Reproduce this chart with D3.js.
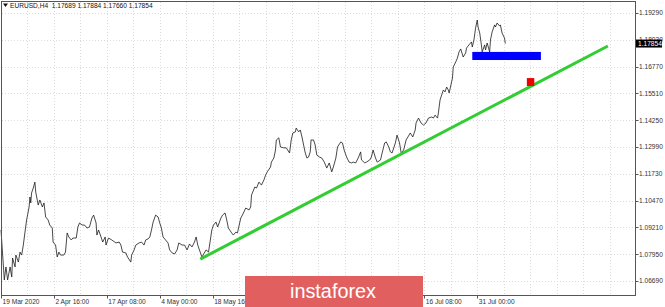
<html>
<head>
  <style>
    body { margin: 0; background: #fff; }
    svg text { font-family: "Liberation Sans", Arial, sans-serif; }
  </style>
  <script src="https://d3js.org/d3.v7.min.js"></script>
</head>
<body>
<div id="chart"></div>
<script type="text/javascript">

// EURUSD H4 closes, bar index counted from 19 Mar 2020 00:00
var bars = [0,4,6,8,11,13,14,17,18,21,23,25,27,29,31,34,35,36,37,39,41,42,45,47,50,52,54,57,59,62,
  63,66,68,70,72,76,78,80,82,85,87,91,93,95,98,101,104,107,110,112,115,116,118,121,123,126,127,130,134,139,
  143,145,147,151,153,157,158,161,163,167,170,173,175,178,180,182,184,187,190,192,194,196,199,202,204,207,210,213,215,219,
  222,225,228,231,234,236,238,240,243,248,251,255,257,260,262,266,268,271,273,275,279,281,284,286,290,292,296,300,302,303,
  307,309,312,315,318,320,322,326,327,330,332,333,336,338,342,345,349,351,353,356,357,360,362,364,366,368,370,372,374,375,
  378,380,382,385,388,391,394,397,400,402,405,407,411,413,415,418,421,424,426,429,432,435,436,440,442,446,448,450,453,455,
  459,461,464,466,469,471,473,477,479,482,484,487,490,495,498,501,502,505,508,511,514,517,521,523,525,528,529,531,533,535,
  537,539,541,542,545,546,547,550,552,554,556,559,562,563,566,569,570,572,574,576,577,579,581,582,585,586,588,591,592,594,
  597,598,600,603,604,606,609,610];
var closes = [1.0909,1.0674,1.0735,1.0674,1.0735,1.0688,1.0777,1.0735,1.0791,1.0758,1.0805,1.0791,1.0838,1.0899,1.0956,1.1017,1.1064,1.1036,1.1083,1.1106,1.1134,1.1087,1.1026,1.1050,1.1017,1.1036,1.0970,1.0956,1.0932,1.0918,
  1.0852,1.0838,1.0782,1.0805,1.0791,1.0791,1.0805,1.0895,1.0876,1.0862,1.0871,1.0871,1.0923,1.0942,1.0932,1.0932,1.0918,1.0923,1.0965,1.0979,1.0942,1.0885,1.0909,1.0876,1.0852,1.0876,1.0838,1.0871,1.0862,1.0848,
  1.0852,1.0838,1.0805,1.0801,1.0782,1.0758,1.0791,1.0815,1.0838,1.0848,1.0852,1.0838,1.0862,1.0867,1.0876,1.0909,1.0946,1.0979,1.0970,1.0942,1.0918,1.0876,1.0862,1.0848,1.0815,1.0801,1.0796,1.0815,1.0848,1.0838,
  1.0838,1.0815,1.0843,1.0829,1.0852,1.0876,1.0838,1.0815,1.0782,1.0815,1.0805,1.0909,1.0932,1.0946,1.0923,1.0965,1.0979,1.0989,1.0956,1.0918,1.0895,1.0885,1.0899,1.0895,1.0965,1.0979,1.1012,1.1003,1.1017,1.1073,
  1.1111,1.1106,1.1134,1.1120,1.1144,1.1167,1.1182,1.1205,1.1228,1.1247,1.1285,1.1332,1.1342,1.1299,1.1295,1.1295,1.1271,1.1332,1.1365,1.1370,1.1388,1.1370,1.1379,1.1346,1.1308,1.1271,1.1247,1.1252,1.1276,1.1332,
  1.1332,1.1308,1.1261,1.1252,1.1247,1.1228,1.1200,1.1224,1.1182,1.1205,1.1247,1.1299,1.1323,1.1318,1.1285,1.1252,1.1228,1.1224,1.1228,1.1224,1.1247,1.1276,1.1238,1.1224,1.1228,1.1238,1.1252,1.1285,1.1247,1.1228,
  1.1238,1.1271,1.1318,1.1323,1.1299,1.1276,1.1271,1.1318,1.1355,1.1318,1.1271,1.1285,1.1332,1.1365,1.1346,1.1379,1.1412,1.1435,1.1412,1.1402,1.1412,1.1435,1.1440,1.1435,1.1449,1.1435,1.1459,1.1520,1.1544,1.1567,
  1.1558,1.1581,1.1567,1.1553,1.1605,1.1623,1.1675,1.1699,1.1717,1.1746,1.1760,1.1722,1.1741,1.1764,1.1779,1.1793,1.1769,1.1802,1.1858,1.1896,1.1863,1.1835,1.1779,1.1746,1.1779,1.1755,1.1788,1.1746,1.1802,1.1840,
  1.1873,1.1863,1.1882,1.1868,1.1873,1.1835,1.1811,1.17854];

var yTicks = [1.06690,1.07950,1.09210,1.10470,1.11730,1.12990,1.14250,1.15510,1.16770,1.18030,1.19290];
var xTickBars = [0,64,128,192,256,320,384,448,512,576];
var xTickLabels = ["19 Mar 2020","2 Apr 16:00","17 Apr 08:00","4 May 00:00","18 May 16:00",
                   "2 Jun 08:00","17 Jun 00:00","1 Jul 16:00","16 Jul 08:00","31 Jul 00:00"];

// drawn objects: trend line, target zone, stop marker
var trendBars = [241, 734];
var trendPrices = [1.0772, 1.1774];
var zoneBars = [570, 653];
var zonePrices = [1.1708, 1.1746];
var markBars = [636, 645];
var markPrices = [1.1586, 1.1623];

var symbolTitle = "EURUSD,H4  1.17689 1.17884 1.17660 1.17854";
var lastPrice = 1.17854;

var W = 665, H = 307;
var logoX0 = 245, logoX1 = 423;
var svg = d3.select("#chart").append("svg").attr("width", W).attr("height", H);

var x = d3.scaleLinear().domain([0, 766.8]).range([1, 635]);
var y = d3.scaleLinear().domain([1.0669, 1.1929]).range([281, 13]);

svg.append("rect").attr("width", W).attr("height", H).attr("fill", "#fff");

// grid
var gridBars = d3.range(0, 767, 32);
svg.selectAll("line.vg").data(gridBars).enter().append("line")
  .attr("x1", d => Math.round(x(d)) + 0.5).attr("x2", d => Math.round(x(d)) + 0.5)
  .attr("y1", 2).attr("y2", 295)
  .attr("stroke", "#dcdcdc").attr("stroke-width", 1).attr("stroke-dasharray", "1,2");
svg.selectAll("line.hg").data(yTicks).enter().append("line")
  .attr("x1", 2).attr("x2", 635)
  .attr("y1", d => Math.round(y(d)) + 0.5).attr("y2", d => Math.round(y(d)) + 0.5)
  .attr("stroke", "#dcdcdc").attr("stroke-width", 1).attr("stroke-dasharray", "1,2");

// price line
var line = d3.line().x((d, i) => x(bars[i])).y(d => y(d));
svg.append("path").datum(closes).attr("d", line)
  .attr("fill", "none").attr("stroke", "#1a1a1a").attr("stroke-width", 0.8);

// trend line
svg.append("line")
  .attr("x1", x(trendBars[0])).attr("y1", y(trendPrices[0]))
  .attr("x2", x(trendBars[1])).attr("y2", y(trendPrices[1]))
  .attr("stroke", "#32cd32").attr("stroke-width", 3);

// blue zone, red marker
svg.append("rect")
  .attr("x", x(zoneBars[0])).attr("y", y(zonePrices[1]))
  .attr("width", x(zoneBars[1]) - x(zoneBars[0])).attr("height", y(zonePrices[0]) - y(zonePrices[1]))
  .attr("fill", "#0000ff");
svg.append("rect")
  .attr("x", x(markBars[0])).attr("y", y(markPrices[1]))
  .attr("width", x(markBars[1]) - x(markBars[0])).attr("height", y(markPrices[0]) - y(markPrices[1]))
  .attr("fill", "#ee0000");

// frame
svg.append("rect").attr("x", 1.5).attr("y", 1.5).attr("width", 634).attr("height", 294)
  .attr("fill", "none").attr("stroke", "#555").attr("stroke-width", 1);

// right axis
var ya = svg.append("g");
ya.selectAll("line").data(yTicks).enter().append("line")
  .attr("x1", 635.5).attr("x2", 638.5)
  .attr("y1", d => Math.round(y(d)) + 0.5).attr("y2", d => Math.round(y(d)) + 0.5)
  .attr("stroke", "#555");
ya.selectAll("text").data(yTicks).enter().append("text")
  .attr("x", 639).attr("y", d => y(d) + 2.3)
  .attr("font-size", "6.6px").attr("fill", "#333")
  .text(d => d.toFixed(5));

// last price box
svg.append("rect").attr("x", 636).attr("y", y(lastPrice) - 4).attr("width", 26).attr("height", 8).attr("fill", "#000");
svg.append("text").attr("x", 638).attr("y", y(lastPrice) + 2.4)
  .attr("font-size", "6.6px").attr("fill", "#fff").text(lastPrice.toFixed(5));

// bottom axis (labels fully under the watermark are not visible in the chart)
var xTicks = xTickBars.map((b, i) => ({bar: b, label: xTickLabels[i]}))
  .filter(t => !(x(t.bar) > logoX0 && x(t.bar) + 35 < logoX1));
var xa = svg.append("g");
xa.selectAll("line").data(xTickBars).enter().append("line")
  .attr("x1", d => Math.round(x(d)) + 0.5).attr("x2", d => Math.round(x(d)) + 0.5)
  .attr("y1", 295.5).attr("y2", 298.5).attr("stroke", "#555");
xa.selectAll("text").data(xTicks).enter().append("text")
  .attr("x", d => x(d.bar) + 1.5).attr("y", 303.5)
  .attr("font-size", "6.6px").attr("fill", "#333")
  .text(d => d.label);

// title
svg.append("path").attr("d", "M3,3.5 L8,3.5 L5.5,7 Z").attr("fill", "#111");
svg.append("text").attr("x", 10).attr("y", 7.6)
  .attr("font-size", "6.6px").attr("fill", "#111").style("white-space", "pre")
  .text(symbolTitle);

// watermark logo
svg.append("rect").attr("x", logoX0).attr("y", 276).attr("width", logoX1 - logoX0).attr("height", 31).attr("fill", "#e25f5f");
svg.append("text").attr("x", 333).attr("y", 297.5).attr("text-anchor", "middle")
  .attr("font-family", "'Open Sans', sans-serif").attr("font-size", "20px").attr("fill", "#fff")
  .attr("textLength", 86).attr("lengthAdjust", "spacingAndGlyphs")
  .text("instaforex");

</script>
</body>
</html>
